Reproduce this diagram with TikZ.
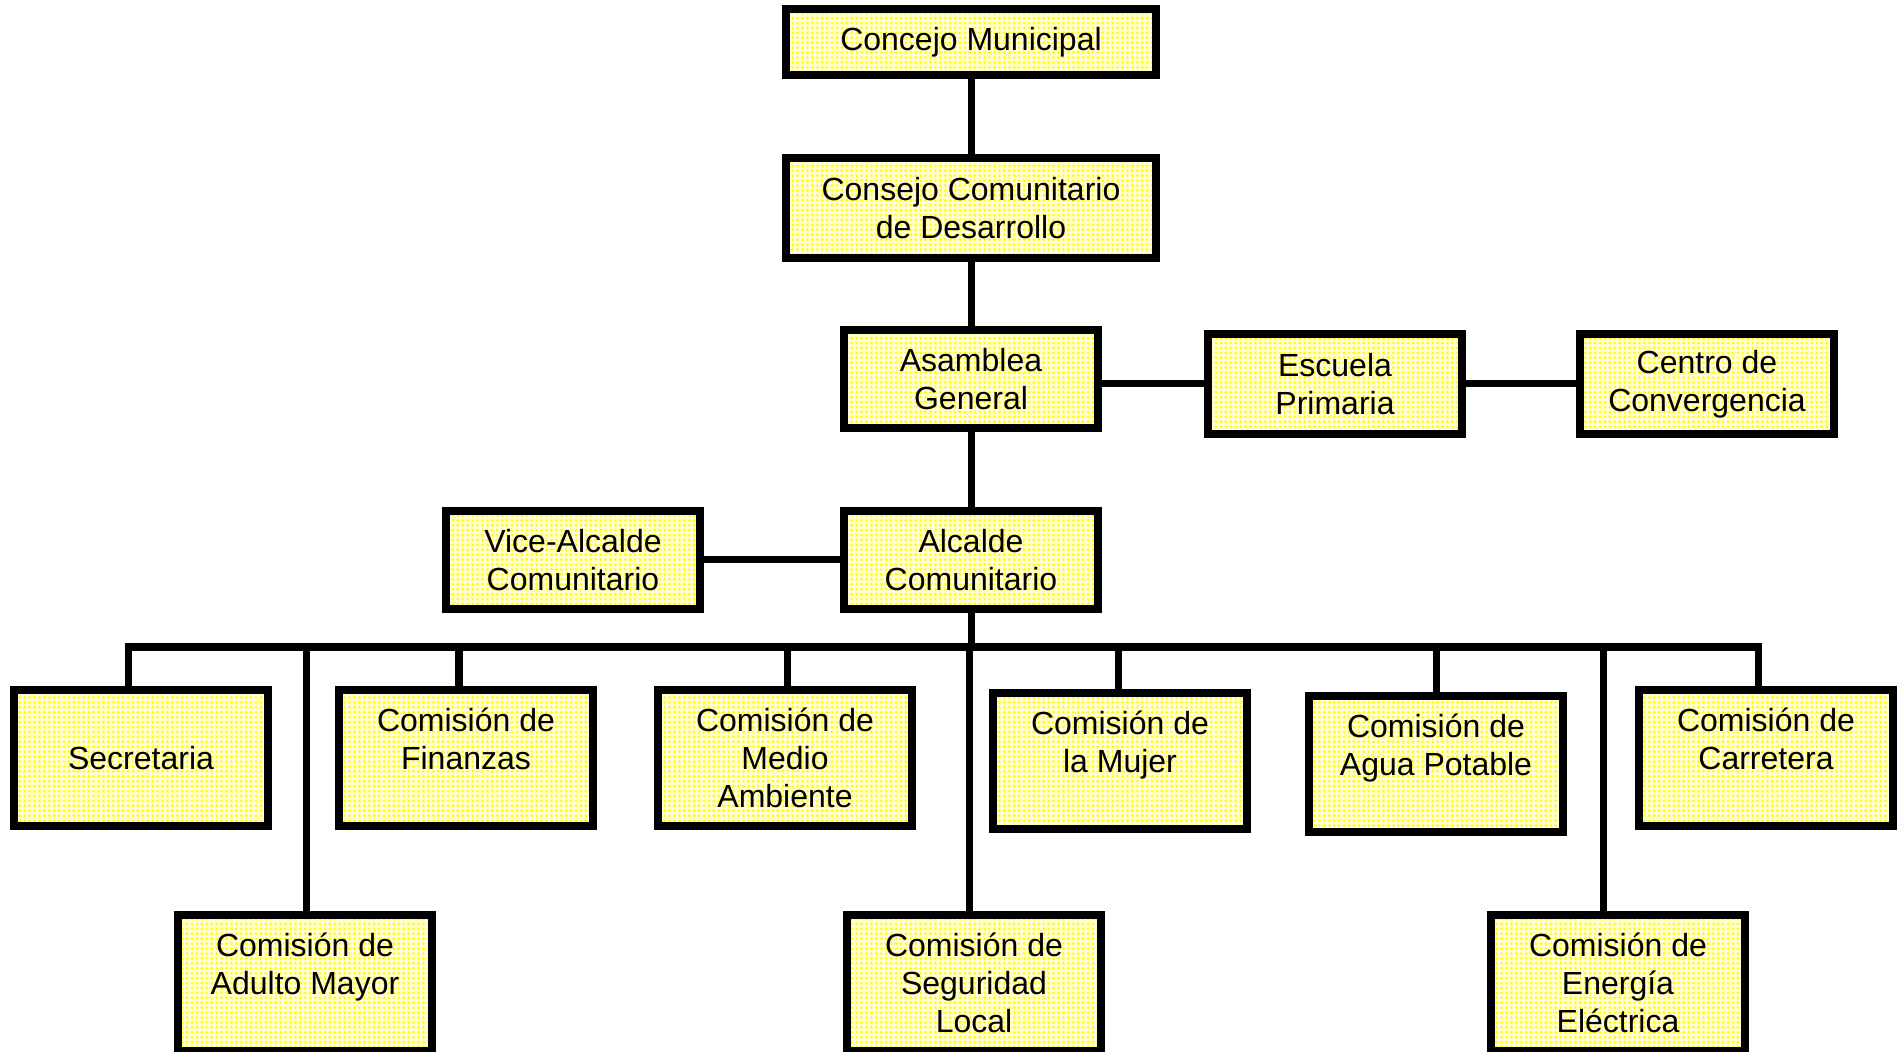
\documentclass[tikz,border=0pt]{standalone}
\usepackage{fontspec}
\setmainfont{Liberation Sans}
\usetikzlibrary{patterns.meta}

\newcommand{\orgfont}{\fontsize{9.1pt}{10.8pt}\selectfont}

\begin{document}
\begin{tikzpicture}[
    x=0.01cm,
    y=-0.01cm,
    box/.style={
        rectangle,
        draw,
        line width=0.08cm,
        preaction={fill=yellow!18},
        pattern={Dots[distance=1.4pt, radius=0.42pt]},
        pattern color=yellow,
        minimum width=2.54cm,
        align=center,
        inner sep=0pt,
        font=\orgfont
    },
    rowbox/.style={
        box,
        minimum height=1.35cm
    },
    link/.style={
        draw,
        line width=0.07cm
    }
]
    \useasboundingbox (0,0) rectangle (1899,1052);

    % Top of the chart
    \node [box, minimum width=3.69cm, minimum height=0.66cm] (concejo) at (971,42) {Concejo Municipal};
    \node [box, minimum width=3.69cm, minimum height=0.99cm] (consejo) at (971,208) {Consejo Comunitario\\de Desarrollo};
    \node [box, minimum height=0.98cm] (asamblea) at (971,379) {Asamblea\\General};
    \node [box, minimum height=1cm] (escuela) at (1335,384) {Escuela\\Primaria};
    \node [box, minimum height=1cm] (centro) at (1707,384) {Centro de\\Convergencia};
    \node [box, minimum height=0.98cm] (vice) at (573,560) {Vice-Alcalde\\Comunitario};
    \node [box, minimum height=0.98cm] (alcalde) at (971,560) {Alcalde\\Comunitario};

    % Commissions, first row
    \node [rowbox] (secr) at (141,758) {Secretaria};
    \node [rowbox] (fin) at (466,758) {Comisión de\\Finanzas\\~};
    \node [rowbox] (medio) at (785,758) {Comisión de\\Medio\\Ambiente};
    \node [rowbox] (mujer) at (1120,761) {Comisión de\\la Mujer\\~};
    \node [rowbox] (agua) at (1436,764) {Comisión de\\Agua Potable\\~};
    \node [rowbox] (carr) at (1766,758) {Comisión de\\Carretera\\~};

    % Commissions, second row
    \node [rowbox, minimum height=1.36cm] (adulto) at (305,983) {Comisión de\\Adulto Mayor\\~};
    \node [rowbox, minimum height=1.36cm] (segur) at (974,983) {Comisión de\\Seguridad\\Local};
    \node [rowbox, minimum height=1.36cm] (energia) at (1618,983) {Comisión de\\Energía\\Eléctrica};

    \coordinate (bus) at (971,647);

    % Edges
    \path [link] (concejo.south) -- (consejo.north);
    \path [link] (consejo.south) -- (asamblea.north);
    \path [link] (asamblea.south) -- (alcalde.north);
    \path [link] (asamblea.east |- escuela) -- (escuela.west);
    \path [link] (escuela.east) -- (centro.west);
    \path [link] (vice.east) -- (alcalde.west);
    \path [link] (alcalde.south) -- (bus);

    \foreach \n/\dx in {secr/-0.12, fin/-0.07, medio/0.02, mujer/-0.02, agua/0, carr/-0.08,
                        adulto/0.01, segur/-0.05, energia/-0.15}
        \path [link] ([xshift=\dx cm]\n.north) |- (bus);

\end{tikzpicture}
\end{document}
